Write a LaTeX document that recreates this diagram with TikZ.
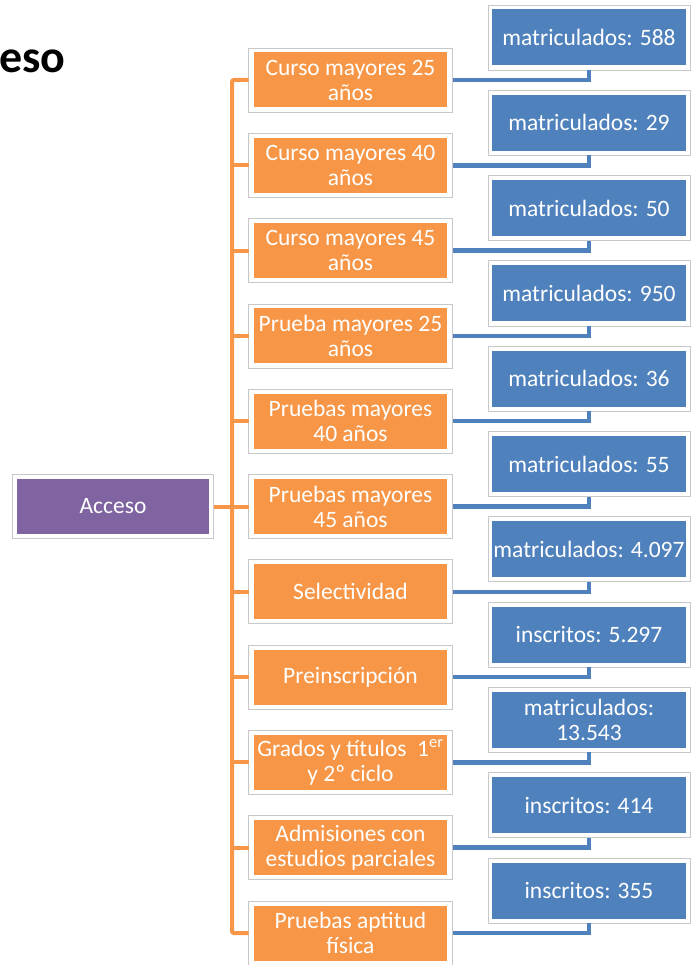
\documentclass[tikz,border=0pt]{standalone}
\usepackage{fontspec}
\setmainfont{Carlito}
\definecolor{orangeC}{HTML}{F79646}
\definecolor{blueC}{HTML}{4F81BD}
\definecolor{purpleC}{HTML}{8064A2}
\definecolor{frameC}{HTML}{C8C8C8}
\begin{document}
\begin{tikzpicture}[x=1pt,y=-1pt,
  frame/.style={draw=frameC, line width=0.8pt, fill=white, inner sep=0pt, outer sep=0pt},
  oframe/.style={frame, minimum width=204pt, minimum height=64pt},
  bframe/.style={frame, minimum width=202pt, minimum height=65pt},
  inbox/.style={inner sep=0pt, outer sep=0pt, text=white, align=center, font=\fontsize{23.5}{25}\selectfont},
  obox/.style={inbox, fill=orangeC, minimum width=193pt, minimum height=55pt},
  bbox/.style={inbox, fill=blueC, minimum width=194pt, minimum height=56pt},
  pbox/.style={inbox, fill=purpleC, minimum width=192pt, minimum height=55pt},
  oline/.style={draw=orangeC, line width=4pt},
  bline/.style={draw=blueC, line width=4.5pt},
]
\useasboundingbox (0,0) rectangle (692,965);
\node[anchor=base west, inner sep=0pt, font=\fontsize{46}{52}\selectfont\bfseries] (title) at (-1,73) {eso};
\coordinate (trunk) at (232,0);
% Acceso
\node[frame, minimum width=201pt, minimum height=64pt] (af) at (113,506.5) {};
\node[pbox] (acc) at (113,506.5) {Acceso};
\foreach \i/\ot/\bt in {
  1/{Curso mayores 25\\años}/{matriculados: 588},
  2/{Curso mayores 40\\años}/{matriculados: 29},
  3/{Curso mayores 45\\años}/{matriculados: 50},
  4/{Prueba mayores 25\\años}/{matriculados: 950},
  5/{Pruebas mayores\\40 años}/{matriculados: 36},
  6/{Pruebas mayores\\45 años}/{matriculados: 55},
  7/{Selectividad}/{matriculados: 4.097},
  8/{Preinscripción}/{inscritos: 5.297},
  9/{Grados y títulos\ \ 1\textsuperscript{er}\\y 2º ciclo}/{matriculados:\\13.543},
  10/{Admisiones con\\estudios parciales}/{inscritos: 414},
  11/{Pruebas aptitud\\física}/{inscritos: 355}}{
  \pgfmathsetmacro\oy{80+(\i-1)*85.3}
  \pgfmathsetmacro\by{37.5+(\i-1)*85.3}
  \node[oframe] (of\i) at (350.5,\oy) {};
  \node[obox] (o\i) at (350.5,\oy) {\ot};
  \node[bframe] (bf\i) at (589,\by) {};
  \node[bbox] (b\i) at (589,\by) {\bt};
}
% orange trunk
\draw[oline, rounded corners=2pt] (of1.west) -- (of1.west -| trunk) |- (of11.west);
\foreach \i in {2,...,10}{
  \draw[oline] (of\i.west) -- (of\i.west -| trunk);
}
\draw[oline] (af.east) -- (af.east -| trunk);
% blue connectors
\foreach \i in {1,...,11}{
  \draw[bline] (of\i.east) -| (bf\i.south);
}
\end{tikzpicture}
\end{document}
